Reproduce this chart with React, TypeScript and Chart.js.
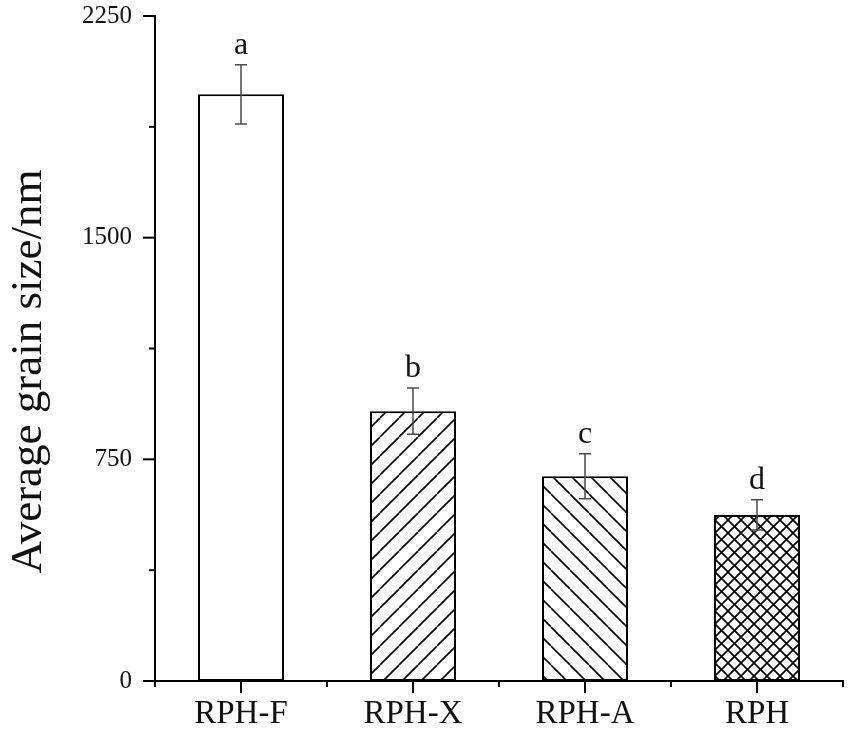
import React, { useEffect, useRef } from "react";
import { Chart, registerables } from "chart.js";

Chart.register(...registerables);

// ---- data ----
const categories = ["RPH-F", "RPH-X", "RPH-A", "RPH"];
const meanSize = [1985, 913, 693, 562];
const errSize = [100, 78, 76, 51];
const groupLetters = ["a", "b", "c", "d"];
const fillKinds = ["none", "forward", "backward", "cross"];
const yMajorTicks = [0, 750, 1500, 2250];
const yMinorTicks = [375, 1125, 1875];
const yTitle = "Average grain size/nm";

const FONT = "'Liberation Serif', 'Times New Roman', serif";

function makePattern(kind: string): CanvasPattern | string {
  if (kind === "none") return "#ffffff";
  const s = kind === "cross" ? 13 : 19;
  const c = document.createElement("canvas");
  c.width = s;
  c.height = s;
  const g = c.getContext("2d")!;
  g.fillStyle = "#ffffff";
  g.fillRect(0, 0, s, s);
  g.strokeStyle = "#000000";
  g.lineWidth = kind === "cross" ? 1.7 : 1.6;
  const fwd = () => {
    for (const o of [-s, 0, s]) {
      g.beginPath();
      g.moveTo(o, s);
      g.lineTo(o + s, 0);
      g.stroke();
    }
  };
  const bwd = () => {
    for (const o of [-s, 0, s]) {
      g.beginPath();
      g.moveTo(o, 0);
      g.lineTo(o + s, s);
      g.stroke();
    }
  };
  if (kind === "forward" || kind === "cross") fwd();
  if (kind === "backward" || kind === "cross") bwd();
  const p = g.createPattern(c, "repeat");
  return p || "#ffffff";
}

const decorPlugin = {
  id: "decor",
  afterDatasetsDraw(chart: any) {
    const { ctx, scales } = chart;
    const ys = scales.y;
    const meta = chart.getDatasetMeta(0);
    ctx.save();
    ctx.strokeStyle = "#4a4a4a";
    ctx.lineWidth = 1.5;
    for (let i = 0; i < meanSize.length; i++) {
      const x = meta.data[i].x;
      const yt = ys.getPixelForValue(meanSize[i] + errSize[i]);
      const yb = ys.getPixelForValue(meanSize[i] - errSize[i]);
      ctx.beginPath();
      ctx.moveTo(x, yt);
      ctx.lineTo(x, yb);
      ctx.moveTo(x - 6, yt);
      ctx.lineTo(x + 6, yt);
      ctx.moveTo(x - 6, yb);
      ctx.lineTo(x + 6, yb);
      ctx.stroke();
      ctx.fillStyle = "#111111";
      ctx.font = `32px ${FONT}`;
      ctx.textAlign = "center";
      ctx.textBaseline = "alphabetic";
      ctx.fillText(groupLetters[i], x, yt - 11);
    }
    ctx.restore();
  },
  afterDraw(chart: any) {
    const { ctx, chartArea, scales } = chart;
    const xs = scales.x;
    const ys = scales.y;
    ctx.save();
    ctx.strokeStyle = "#000000";
    ctx.lineWidth = 2;
    const L = chartArea.left;
    const B = chartArea.bottom;
    for (const v of yMajorTicks) {
      const y = ys.getPixelForValue(v);
      ctx.beginPath();
      ctx.moveTo(L - 12, y);
      ctx.lineTo(L, y);
      ctx.stroke();
    }
    for (const v of yMinorTicks) {
      const y = ys.getPixelForValue(v);
      ctx.beginPath();
      ctx.moveTo(L - 6, y);
      ctx.lineTo(L, y);
      ctx.stroke();
    }
    const n = categories.length;
    for (let i = 0; i < n; i++) {
      const x = xs.getPixelForValue(i);
      ctx.beginPath();
      ctx.moveTo(x, B);
      ctx.lineTo(x, B + 12);
      ctx.stroke();
    }
    for (let k = 0; k <= n; k++) {
      const x = xs.left + (k * xs.width) / n;
      ctx.beginPath();
      ctx.moveTo(x, B);
      ctx.lineTo(x, B + 6);
      ctx.stroke();
    }
    ctx.fillStyle = "#111111";
    ctx.font = `45px ${FONT}`;
    ctx.textAlign = "center";
    ctx.textBaseline = "alphabetic";
    ctx.translate(41, (chartArea.top + chartArea.bottom) / 2 + 23);
    ctx.rotate(-Math.PI / 2);
    ctx.fillText(yTitle, 0, 0);
    ctx.restore();
  },
};

export default function App() {
  const ref = useRef<HTMLCanvasElement | null>(null);
  useEffect(() => {
    if (!ref.current) return;
    const chart = new Chart(ref.current, {
      type: "bar",
      data: {
        labels: categories,
        datasets: [
          {
            data: meanSize,
            backgroundColor: fillKinds.map(makePattern) as any,
            borderColor: "#000000",
            borderWidth: 2,
            borderSkipped: false,
            barPercentage: 0.5,
            categoryPercentage: 1.0,
          },
        ],
      },
      options: {
        animation: false,
        responsive: false,
        devicePixelRatio: 1,
        layout: { padding: { left: 0, top: 16, right: 7, bottom: 0 } },
        plugins: {
          legend: { display: false },
          tooltip: { enabled: false },
          title: { display: false },
        },
        scales: {
          x: {
            type: "category",
            offset: true,
            grid: { display: false, drawTicks: false },
            border: { display: true, color: "#000000", width: 2 },
            ticks: {
              color: "#111111",
              font: { family: FONT, size: 33 },
              padding: 14,
              maxRotation: 0,
            },
            afterFit: (s: any) => {
              s.height = 50;
              s.paddingLeft = 0;
              s.paddingRight = 0;
            },
          },
          y: {
            type: "linear",
            min: 0,
            max: 2250,
            grid: { display: false, drawTicks: false },
            border: { display: true, color: "#000000", width: 2 },
            ticks: {
              stepSize: 750,
              color: "#111111",
              font: { family: FONT, size: 25 },
              padding: 23,
              callback: (v: any) => String(v),
            },
            afterFit: (s: any) => {
              s.width = 155;
              s.paddingTop = 0;
              s.paddingBottom = 0;
            },
          },
        },
      },
      plugins: [decorPlugin],
    });
    return () => chart.destroy();
  }, []);
  return (
    <div style={{ position: "fixed", left: 0, top: 0, width: 850, height: 731, background: "#fff" }}>
      <canvas ref={ref} width={850} height={731} />
    </div>
  );
}
